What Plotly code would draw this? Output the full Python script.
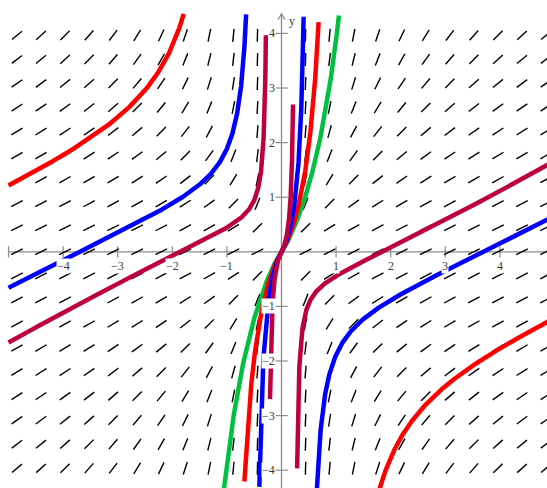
import numpy as np
import plotly.graph_objects as go

# Direction field of  dy/dx = (x^2 + y^2) / (2 x^2)
# with solution curves  y = x - 2x / ln(c|x|)  for several constants c.

C_VALUES = [0.5, 1.0, 2.0, 4.0]
CURVE_COLORS = ["#00C040", "#FF0000", "#0000FF", "#BE0040"]
# x-extent of the drawn branches of each solution (None = branch not drawn)
LEFT_BRANCH = [None, (-5.0, -1.79), (-5.0, -0.648), (-5.0, -0.286)]
MID_BRANCH = [(-1.052, 1.052), (-0.68, 0.68), (-0.406, 0.406), (-0.211, 0.211)]
RIGHT_BRANCH = [None, (1.79, 5.0), (0.648, 5.0), (0.286, 5.0)]

# direction field grid
FIELD_STEP = 0.4405
FIELD_COLS = list(range(-11, 12))
FIELD_ROWS = list(range(-9, 10))
SEG_LEN = 0.238

# axes
X_TICKS = [-4, -3, -2, -1, 1, 2, 3, 4]
Y_TICKS = [-4, -3, -2, -1, 1, 2, 3, 4]
X_TICK_MARKS = [-5, -4, -3, -2, -1, 1, 2, 3, 4]
X_RANGE = [-5.156, 4.863]
Y_RANGE = [-4.326, 4.612]
X_AXIS_START = -5.0
Y_AXIS_TOP = 4.36
AXIS_COLOR = "#8a8a8a"
LABEL_FONT = dict(family="Liberation Serif, Times New Roman, serif", size=12, color="#3a3a3a")


def slope(x, y):
    return (x * x + y * y) / (2.0 * x * x)


def solution(c, xs):
    xs = np.asarray(xs, dtype=float)
    ys = np.zeros_like(xs)
    nz = xs != 0
    ys[nz] = xs[nz] - 2.0 * xs[nz] / np.log(c * np.abs(xs[nz]))
    return ys


fig = go.Figure()

# coordinate axes
fig.add_trace(go.Scatter(x=[X_AXIS_START, X_RANGE[1]], y=[0, 0], mode="lines",
                         line=dict(color=AXIS_COLOR, width=1.3), hoverinfo="skip"))
fig.add_trace(go.Scatter(x=[0, 0], y=[Y_RANGE[0], Y_AXIS_TOP], mode="lines",
                         line=dict(color=AXIS_COLOR, width=1.3), hoverinfo="skip"))
arrow_w, arrow_h = 0.064, 0.11
fig.add_trace(go.Scatter(x=[-arrow_w, 0, arrow_w],
                         y=[Y_AXIS_TOP - arrow_h, Y_AXIS_TOP, Y_AXIS_TOP - arrow_h],
                         mode="lines", line=dict(color=AXIS_COLOR, width=1.2), hoverinfo="skip"))
fig.add_trace(go.Scatter(x=X_TICK_MARKS, y=[0] * len(X_TICK_MARKS), mode="markers",
                         marker=dict(symbol="line-ns", size=8,
                                     line=dict(color=AXIS_COLOR, width=1.2)),
                         hoverinfo="skip"))
fig.add_trace(go.Scatter(x=[0] * len(Y_TICKS), y=Y_TICKS, mode="markers",
                         marker=dict(symbol="line-ew", size=9,
                                     line=dict(color=AXIS_COLOR, width=1.2)),
                         hoverinfo="skip"))

# direction field segments
sx, sy = [], []
for i in FIELD_COLS:
    if i == 0:
        continue
    x = i * FIELD_STEP
    for j in FIELD_ROWS:
        y = j * FIELD_STEP
        s = slope(x, y)
        dx = 0.5 * SEG_LEN / np.sqrt(1.0 + s * s)
        dy = s * dx
        sx += [x - dx, x + dx, None]
        sy += [y - dy, y + dy, None]
fig.add_trace(go.Scatter(x=sx, y=sy, mode="lines",
                         line=dict(color="black", width=1.4), hoverinfo="skip"))

# solution curves
for c, color, lb, mb, rb in zip(C_VALUES, CURVE_COLORS, LEFT_BRANCH, MID_BRANCH, RIGHT_BRANCH):
    for br in (lb, mb, rb):
        if br is None:
            continue
        xs = np.linspace(br[0], br[1], 3000)
        ys = solution(c, xs)
        fig.add_trace(go.Scatter(x=xs, y=ys, mode="lines",
                                 line=dict(color=color, width=4.5), hoverinfo="skip"))

# tick labels
annotations = []
for t in X_TICKS:
    txt = ("\u2212%d" % -t) if t < 0 else str(t)
    annotations.append(dict(x=t, y=0, text=txt, showarrow=False, font=LABEL_FONT,
                            xanchor="center", yanchor="middle", yshift=-14,
                            bgcolor="white", borderpad=0))
for t in Y_TICKS:
    txt = ("\u2212%d" % -t) if t < 0 else str(t)
    annotations.append(dict(x=0, y=t, text=txt, showarrow=False, font=LABEL_FONT,
                            xanchor="right", yanchor="middle", xshift=-6,
                            bgcolor="white", borderpad=0))
annotations.append(dict(x=0, y=Y_AXIS_TOP, text="y", showarrow=False, font=LABEL_FONT,
                        xanchor="center", yanchor="middle", xshift=10, yshift=-7))

fig.update_layout(
    width=547, height=488, autosize=False,
    margin=dict(l=0, r=0, t=0, b=0),
    paper_bgcolor="white", plot_bgcolor="white",
    showlegend=False,
    xaxis=dict(range=X_RANGE, visible=False, fixedrange=True),
    yaxis=dict(range=Y_RANGE, visible=False, fixedrange=True),
    annotations=annotations,
)

fig.write_html("out.html")
